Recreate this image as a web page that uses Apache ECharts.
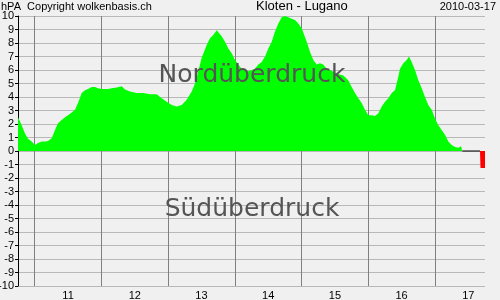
<!DOCTYPE html>
<html><head><meta charset="utf-8">
<script src="https://cdn.jsdelivr.net/npm/echarts@6/dist/echarts.min.js"></script>
<style>html,body{margin:0;padding:0;background:#f0f0f0}#c{width:500px;height:300px}</style>
</head><body><div id="c"></div>
<script>
// hours since 2010-03-10 00:00
var hours = [18.0,19.33,20.52,21.60,22.93,24.12,25.19,26.53,27.71,28.79,30.12,31.31,32.39,33.72,34.91,35.99,37.32,38.51,39.58,40.92,42.10,43.18,44.51,45.70,46.78,48.11,49.30,50.38,51.71,53.51,55.31,56.49,58.29,60.70,63.08,65.49,67.90,69.69,71.49,73.29,75.09,76.89,78.69,80.49,81.67,82.86,84.08,85.88,87.07,88.26,89.48,90.06,91.28,92.47,93.65,94.88,96.06,97.25,98.47,99.66,100.85,102.07,103.26,104.45,105.67,106.86,108.04,109.27,110.45,111.64,112.86,114.05,115.24,116.46,117.65,118.84,120.06,121.86,123.04,124.23,125.45,126.64,127.83,129.05,130.24,132.65,135.03,136.82,138.05,139.23,140.42,141.64,142.83,144.02,145.24,146.43,147.62,148.84,150.03,151.21,152.44,153.62,154.81,155.42,156.61,157.83,158.66,159.63,160.82,162.01,163.23,164.42,165.60,166.83,168.01,169.20,170.42,171.61,172.80,174.02,175.21,176.40,177.37,177.83,184.20,184.38,186.0];
var pressure = [2.5,1.9,1.3,0.9,0.7,0.45,0.6,0.7,0.7,0.75,0.95,1.55,2.05,2.3,2.5,2.65,2.85,3.05,3.55,4.3,4.5,4.6,4.75,4.75,4.65,4.6,4.6,4.6,4.65,4.7,4.8,4.55,4.4,4.3,4.3,4.2,4.2,3.9,3.65,3.4,3.3,3.4,3.8,4.4,5.0,5.9,6.9,7.85,8.35,8.6,8.95,8.85,8.5,8.1,7.6,7.25,6.75,6.4,6.1,6.0,5.9,6.0,6.1,6.4,6.6,7.0,7.6,8.1,8.85,9.45,9.9,10.0,9.9,9.8,9.7,9.45,9.1,8.1,7.35,6.75,6.4,6.5,6.4,6.1,6.0,5.75,5.6,5.25,4.75,4.3,3.9,3.55,3.05,2.65,2.65,2.6,2.8,3.3,3.65,3.9,4.3,4.5,5.5,6.1,6.5,6.75,7.0,6.6,6.0,5.25,4.65,4.0,3.4,3.05,2.4,1.9,1.55,1.2,0.7,0.45,0.3,0.25,0.35,0,0,-1.25,-1.25];
var yTicks = [-10,10,1];
var titleLeft = 'hPA  Copyright wolkenbasis.ch';
var titleMid = 'Kloten - Lugano';
var titleRight = '2010-03-17';
var labelNorth = 'Nordüberdruck';
var labelSouth = 'Südüberdruck';

var pos = hours.map(function(h,i){return [h, Math.max(pressure[i],0)];});
var neg = hours.map(function(h,i){return [h, Math.min(pressure[i],0)];});
var zero = hours.map(function(h,i){return [h, pressure[i]===0 ? 0 : null];});

var F = 'Liberation Sans';
var T = 'rgba(0,0,0,0)';
var chart = echarts.init(document.getElementById('c'), null, {renderer:'canvas'});
chart.setOption({
  backgroundColor:'#f0f0f0',
  animation:false,
  grid:{left:18,right:15,top:16,bottom:14,containLabel:false,outerBoundsMode:'none'},
  xAxis:{type:'value',min:18,max:186,interval:6,
    axisLine:{show:false},axisTick:{show:false},
    splitLine:{show:true,lineStyle:{color:[T,'#808080',T,T],width:1}},
    axisLabel:{margin:4,color:'#000',fontFamily:F,fontSize:11,
      formatter:function(v){return (v%24===12)? String(10+Math.floor(v/24)) : '';}}},
  yAxis:{type:'value',min:yTicks[0],max:yTicks[1],interval:yTicks[2],
    axisLine:{show:true,onZero:false,lineStyle:{color:'#000',width:1}},
    axisTick:{show:true,length:3,lineStyle:{color:'#000'}},
    axisLabel:{margin:4,color:'#000',fontFamily:F,fontSize:11},
    splitLine:{show:true,lineStyle:{color:'#b8b8b8',width:1}}},
  graphic:[
    {type:'text',left:1,top:1,style:{text:titleLeft,font:'11px '+F,fill:'#000'}},
    {type:'text',left:256,top:0,style:{text:titleMid,font:'13px '+F,fill:'#000'}},
    {type:'text',right:4,top:1,style:{text:titleRight,font:'11px '+F,fill:'#000'}},
    {type:'text',x:252,y:75,z:100,style:{text:labelNorth,font:'25px DejaVu Sans',fill:'#555',align:'center',verticalAlign:'middle'}},
    {type:'text',x:252,y:209,z:100,style:{text:labelSouth,font:'25px DejaVu Sans',fill:'#555',align:'center',verticalAlign:'middle'}}
  ],
  series:[
    {type:'line',data:pos,symbol:'none',lineStyle:{width:0},areaStyle:{color:'#00ff00',opacity:1},z:3},
    {type:'line',data:neg,symbol:'none',lineStyle:{width:0},areaStyle:{color:'#ff0000',opacity:1},z:3},
    {type:'line',data:zero,symbol:'none',lineStyle:{width:1,color:'#000'},z:4}
  ]
});
</script></body></html>
